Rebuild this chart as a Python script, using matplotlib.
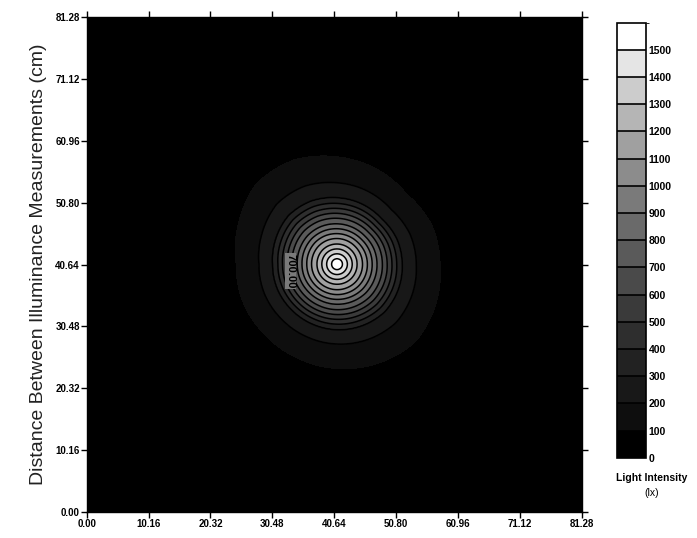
import numpy as np
import matplotlib
matplotlib.use("Agg")
import matplotlib.pyplot as plt
from matplotlib.colors import ListedColormap, BoundaryNorm

# ---- data ----
spot_center = (41.1, 40.7)                       # cm, location of the brightest reading
# radius (cm) at which each intensity contour lies (radial light profile)
profile_radius = [0.0, 0.9, 1.7, 2.5, 3.3, 4.2, 5.0, 5.8, 6.6, 7.5, 8.3,
                  9.1, 9.9, 10.8, 13.2, 17.3, 25.0]
profile_intensity = [1580, 1500, 1400, 1300, 1200, 1100, 1000, 900, 800, 700, 600,
                     500, 400, 300, 200, 100, 0]
# radius (cm) of the outer 100 lx contour in different directions
direction_deg = [0, 22.5, 45, 67.5, 90, 112.5, 135, 157.5, 180,
                 202.5, 225, 247.5, 270, 292.5, 315, 337.5]
outer_radius = [16.9, 16.8, 16.1, 16.9, 17.6, 18.5, 18.7, 17.5, 16.5,
                16.6, 16.5, 16.7, 17.1, 17.6, 18.1, 17.5]
levels = list(range(0, 1700, 100))
band_gray = [0, 14, 24, 34, 46, 58, 74, 90, 106, 122, 140, 160, 181, 204, 229, 255]
tick_values = [0.00, 10.16, 20.32, 30.48, 40.64, 50.80, 60.96, 71.12, 81.28]
cbar_ticks = list(range(0, 1600, 100))
label_level = 700
label_pos = (33.5, 39.6)

# ---- build the intensity field ----
xs = np.linspace(0, 81.28, 501)
X, Y = np.meshgrid(xs, xs)
dx = X - spot_center[0]
dy = Y - spot_center[1]
r = np.hypot(dx, dy)
theta = np.degrees(np.arctan2(dy, dx)) % 360
ang = np.array(direction_deg + [360.0])
rad = np.array(outer_radius + [outer_radius[0]])
scale = np.interp(theta, ang, rad) / profile_radius[-2]
w = np.clip(r / profile_radius[-2], 0, 1) ** 1.5
r_eff = r / (1 + (scale - 1) * w)
Z = np.interp(r_eff, profile_radius, profile_intensity)

plt.rcParams['font.family'] = ['Liberation Sans', 'DejaVu Sans']
fig = plt.figure(figsize=(6.97, 5.38), dpi=100)
ax = fig.add_axes([0.1244, 0.0483, 0.7102, 0.920])

cmap = ListedColormap([(g / 255, g / 255, g / 255) for g in band_gray])
norm = BoundaryNorm(levels, cmap.N)
cf = ax.contourf(X, Y, Z, levels=levels, cmap=cmap, norm=norm)
cl = ax.contour(X, Y, Z, levels=levels[2:-1], colors='black', linewidths=1.1)
ax.text(label_pos[0], label_pos[1], f"{label_level:.2f}", rotation=270, fontsize=8,
        fontweight='bold', color='black', ha='center', va='center',
        bbox=dict(boxstyle='square,pad=0.05', fc=(122/255,)*3, ec='none'))

ax.set_xlim(0, 81.28)
ax.set_ylim(0, 81.28)
ax.set_xticks(tick_values)
ax.set_yticks(tick_values)
ax.set_xticklabels([f"{v:.2f}" for v in tick_values], fontsize=7, fontweight='bold')
ax.set_yticklabels([f"{v:.2f}" for v in tick_values], fontsize=7, fontweight='bold')
ax.tick_params(direction='out', length=4, width=1, top=True, right=True, pad=1)
for s in ax.spines.values():
    s.set_linewidth(1)
ax.set_ylabel("Distance Between Illuminance Measurements (cm)", fontsize=14,
              labelpad=6, color='#222222')

cax = fig.add_axes([0.885, 0.149, 0.0416, 0.809])
cb = fig.colorbar(cf, cax=cax, ticks=cbar_ticks, drawedges=True)
cb.outline.set_linewidth(1.2)
cb.dividers.set_linewidth(1.2)
cax.tick_params(length=0, pad=2)
cax.set_yticklabels([str(t) for t in cbar_ticks], fontsize=7.5, fontweight='bold')
cax.yaxis.set_ticks_position('right')
fig.text(0.935, 0.112, "Light Intensity", ha='center', va='center', fontsize=7.5,
         fontweight='bold')
fig.text(0.935, 0.083, "(lx)", ha='center', va='center', fontsize=7.5)

fig.savefig("out.png", dpi=100)
